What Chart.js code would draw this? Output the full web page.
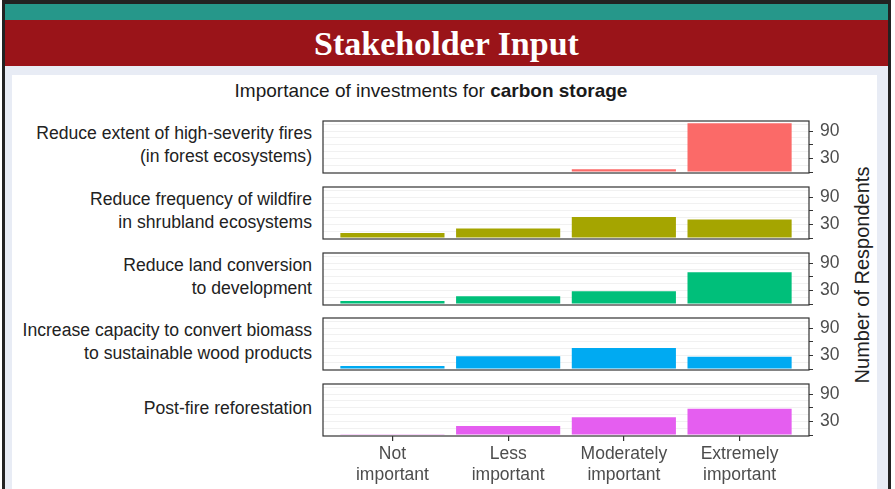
<!DOCTYPE html>
<html>
<head>
<meta charset="utf-8">
<title>Stakeholder Input</title>
<script src="https://cdn.jsdelivr.net/npm/chart.js@4.4.0/dist/chart.umd.min.js"></script>
<style>
  body { margin: 0; width: 895px; height: 489px; overflow: hidden; background: #fff;
         font-family: "Liberation Sans", Arial, sans-serif; position: relative; }
  .frame { position: absolute; left: 2px; top: 0; width: 883px; height: 500px;
           border: 3px solid #222; border-top-width: 4px; border-bottom: none; background: #e8ecf5; }
  .teal { position: absolute; left: 0; top: 0; width: 100%; height: 16px; background: #26978a; }
  .banner { position: absolute; left: 0; top: 16px; width: 100%; height: 46px; background: #9a1419;
            color: #fff; text-align: center; font: bold 34px/47px "Liberation Serif", "DejaVu Serif", serif; }
  .sheet { position: absolute; left: 7px; top: 71px; width: 865px; height: 430px; background: #fff; }
  .title { position: absolute; left: 131px; top: 79px; width: 600px; text-align: center;
           font-size: 19px; line-height: 24px; color: #1a1a1a; }
  .rowlabel { position: absolute; left: 0; width: 312px; text-align: right;
              font-size: 17.6px; line-height: 23px; color: #222; white-space: nowrap; }
  .ytitle { position: absolute; left: 712px; top: 263px; width: 300px; height: 24px; text-align: center;
            font-size: 20px; line-height: 24px; color: #222; transform: rotate(-90deg); }
  .panel { position: absolute; left: 320px; }
</style>
</head>
<body>
<div class="frame">
  <div class="teal"></div>
  <div class="banner">Stakeholder Input</div>
  <div class="sheet"></div>
</div>
<div class="title">Importance of investments for <b>carbon storage</b></div>
<div class="ytitle">Number of Respondents</div>
<div id="panels"></div>

<script>
// categories on the x axis (shared by every panel)
const categories = ['Not important', 'Less important', 'Moderately important', 'Extremely important'];

// one row per investment type
const investments = [
  ['Reduce extent of high-severity fires', '(in forest ecosystems)'],
  ['Reduce frequency of wildfire', 'in shrubland ecosystems'],
  ['Reduce land conversion', 'to development'],
  ['Increase capacity to convert biomass', 'to sustainable wood products'],
  ['Post-fire reforestation']
];

// number of respondents
const highSeverityFires = [0, 0, 6, 107];
const shrublandWildfire = [11, 21, 46, 41];
const landConversion = [7, 17, 28, 70];
const woodProducts = [7, 28, 46, 27];
const reforestation = [1, 20, 39, 58];

const yTickLabels = [30, 90];
const yTickMarks = [0, 30, 60, 90];
const yGrid = [15, 30, 45, 60, 75, 90, 105];

const seriesValues = [highSeverityFires, shrublandWildfire, landConversion, woodProducts, reforestation];
const barColors = ['#fb6a68', '#a5a500', '#00bf7a', '#00aaf2', '#e55ef0'];

// layout of the facet panels
const panelTops = [121, 187, 253, 318, 384];
const panelHeight = 52;
const pad = 3;

// draws the box around each panel
const panelFrame = {
  id: 'panelFrame',
  afterDraw(chart) {
    const { ctx, chartArea: a } = chart;
    ctx.save();
    ctx.strokeStyle = '#333';
    ctx.lineWidth = 1.2;
    ctx.strokeRect(a.left, a.top, a.right - a.left, a.bottom - a.top);
    ctx.restore();
  }
};

const holder = document.getElementById('panels');

seriesValues.forEach((values, i) => {
  const isLast = i === seriesValues.length - 1;
  const top = panelTops[i];

  // row label on the left
  const lab = document.createElement('div');
  lab.className = 'rowlabel';
  lab.innerHTML = investments[i].join('<br>');
  lab.style.top = (top + panelHeight / 2 - 2 - investments[i].length * 23 / 2) + 'px';
  document.body.appendChild(lab);

  const wrap = document.createElement('div');
  wrap.className = 'panel';
  wrap.style.top = (top - pad) + 'px';
  const canvas = document.createElement('canvas');
  canvas.width = 540;
  canvas.height = isLast ? pad + panelHeight + 52 : panelHeight + 2 * pad;
  wrap.appendChild(canvas);
  holder.appendChild(wrap);

  new Chart(canvas, {
    type: 'bar',
    data: {
      datasets: [{
        data: values.map((v, k) => ({ x: k + 1, y: v })),
        backgroundColor: barColors[i],
        borderWidth: 0,
        barPercentage: 0.9,
        categoryPercentage: 1
      }]
    },
    options: {
      responsive: false,
      animation: false,
      devicePixelRatio: 1,
      layout: { padding: { left: pad, top: pad, right: 0, bottom: isLast ? 0 : pad } },
      plugins: { legend: { display: false }, tooltip: { enabled: false } },
      scales: {
        x: {
          type: 'linear',
          display: isLast,
          min: 0.4,
          max: 4.6,
          offset: false,
          afterBuildTicks: s => { s.ticks = categories.map((c, k) => ({ value: k + 1 })); },
          afterFit: s => {
            if (isLast) s.height = 52;
            s.paddingLeft = 0;
            s.paddingRight = 0;
          },
          grid: { offset: false, drawOnChartArea: false, tickLength: 5, color: '#333', tickColor: '#333', lineWidth: 1.2 },
          border: { display: false },
          ticks: {
            maxRotation: 0,
            autoSkip: false,
            padding: 3,
            color: '#4d4d4d',
            font: { family: '"Liberation Sans", Arial, sans-serif', size: 17.5, lineHeight: 1.18 },
            callback: v => {
              const c = categories[Math.round(v) - 1] || '';
              const cut = c.indexOf(' ');
              return [c.slice(0, cut), c.slice(cut + 1)];
            }
          }
        },
        y: {
          type: 'linear',
          position: 'right',
          min: -2,
          max: 112,
          afterBuildTicks: s => {
            s.ticks = [0].concat(yGrid).map(v => ({ value: v }));
          },
          afterFit: s => { s.width = 51; s.paddingTop = 0; s.paddingBottom = 0; },
          grid: {
            drawOnChartArea: true,
            tickLength: 4,
            lineWidth: 1,
            color: c => (c.tick && c.tick.value > 0 ? '#f1f1f1' : 'rgba(0,0,0,0)'),
            tickColor: c => (c.tick && yTickMarks.includes(c.tick.value) ? '#333' : 'rgba(0,0,0,0)')
          },
          border: { display: false },
          ticks: {
            autoSkip: false,
            padding: 7,
            color: '#4d4d4d',
            font: { family: '"Liberation Sans", Arial, sans-serif', size: 17.5 },
            callback: v => (yTickLabels.includes(v) ? String(v) : '')
          }
        }
      }
    },
    plugins: [panelFrame]
  });
});
</script>
</body>
</html>
